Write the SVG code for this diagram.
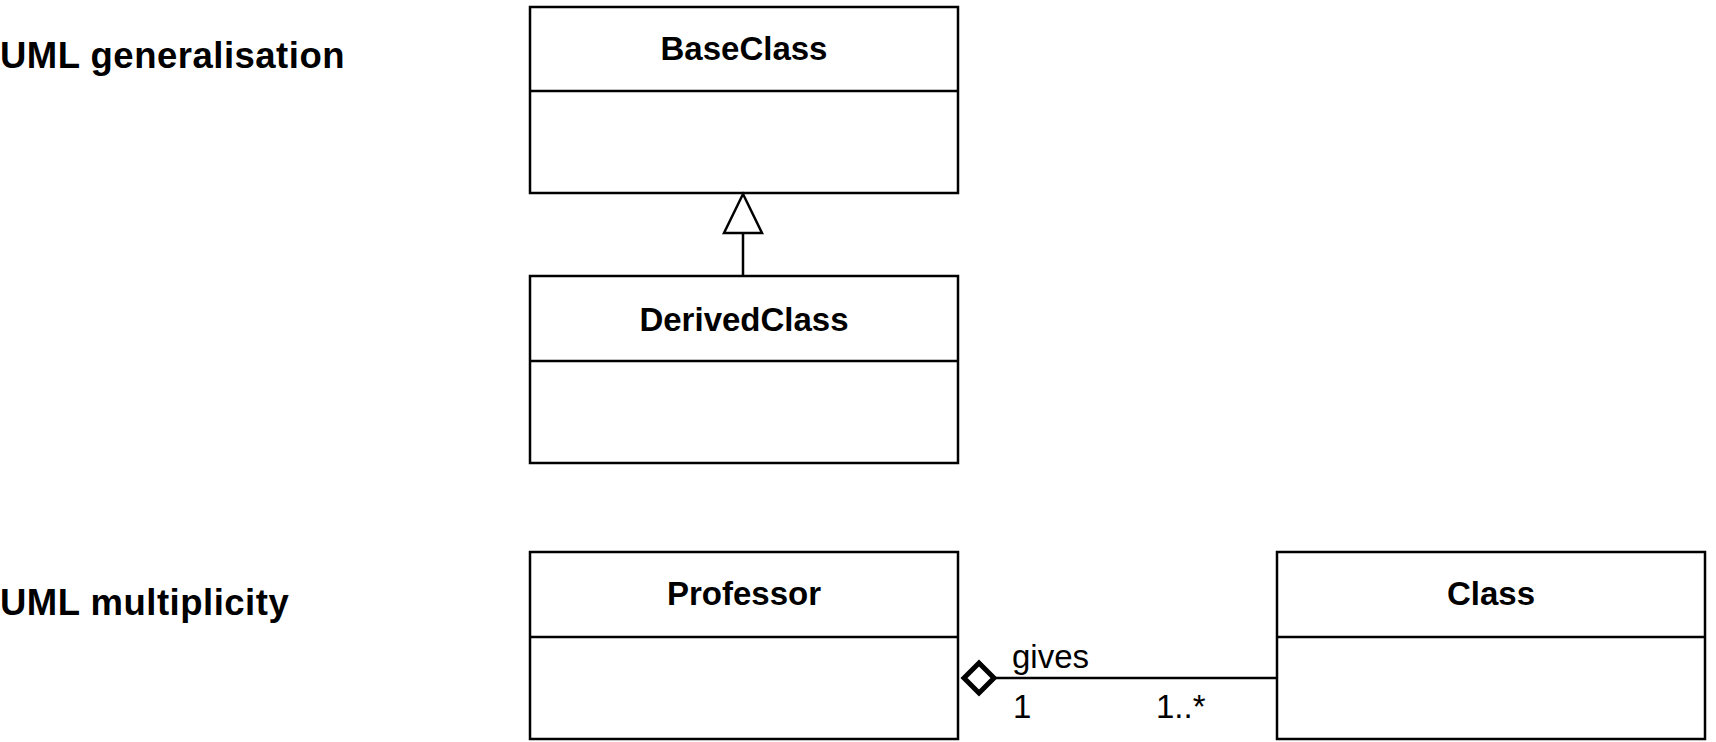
<svg xmlns="http://www.w3.org/2000/svg" width="1716" height="742" viewBox="0 0 1716 742">
<style>
.box{fill:#fff;stroke:#000;stroke-width:2.5}
.div{stroke:#000;stroke-width:2.5}
.name{font-family:"Liberation Sans",Arial,sans-serif;font-weight:bold;font-size:33px;text-anchor:middle}
.title{font-family:"Liberation Sans",Arial,sans-serif;font-weight:bold;font-size:36.5px;letter-spacing:0.5px}
.lbl{font-family:"Liberation Sans",Arial,sans-serif;font-size:33px}
.conn{stroke:#000;stroke-width:2.5;fill:none}
</style>
<rect width="1716" height="742" fill="#fff"/>
<text class="title" x="0" y="68">UML generalisation</text>
<text class="title" x="0" y="615">UML multiplicity</text>
<g id="BaseClass">
<rect class="box" x="530" y="7" width="428" height="186"/>
<line class="div" x1="530" y1="91" x2="958" y2="91"/>
<text class="name" x="744" y="60">BaseClass</text>
</g>
<g id="DerivedClass">
<rect class="box" x="530" y="276" width="428" height="187"/>
<line class="div" x1="530" y1="361" x2="958" y2="361"/>
<text class="name" x="744" y="331">DerivedClass</text>
</g>
<g id="Professor">
<rect class="box" x="530" y="552" width="428" height="187"/>
<line class="div" x1="530" y1="637" x2="958" y2="637"/>
<text class="name" x="744" y="605">Professor</text>
</g>
<g id="Class">
<rect class="box" x="1277" y="552" width="428" height="187"/>
<line class="div" x1="1277" y1="637" x2="1705" y2="637"/>
<text class="name" x="1491" y="605">Class</text>
</g>
<g id="connectors">
<line class="conn" x1="743" y1="276" x2="743" y2="233"/>
<polygon class="conn" points="743,194 762,233 724,233" fill="#fff"/>
<line class="conn" x1="993" y1="678" x2="1277" y2="678"/>
<polygon points="964,678 979,663 994,678 979,693" fill="#fff" stroke="#000" stroke-width="5"/>
<text class="lbl" x="1012" y="668">gives</text>
<text class="lbl" x="1013" y="718">1</text>
<text class="lbl" x="1156" y="718">1..*</text>
</g>
</svg>
